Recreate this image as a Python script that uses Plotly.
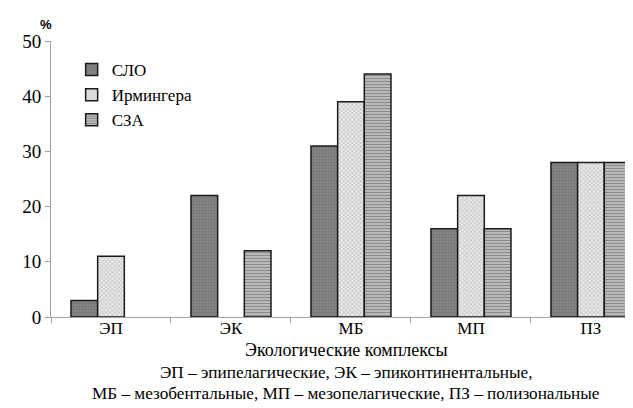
import plotly.graph_objects as go

categories = ["ЭП", "ЭК", "МБ", "МП", "ПЗ"]
slo = [3, 22, 31, 16, 28]
irminger = [11, 0, 39, 22, 28]
sza = [0, 12, 44, 16, 28]
series_names = ["СЛО", "Ирмингера", "СЗА"]
y_ticks = [0, 10, 20, 30, 40, 50]

serif = "Liberation Serif"

fig = go.Figure()
styles = [
    dict(color="#8c8c8c", pattern=dict(shape=".", fgcolor="#5a5a5a", bgcolor="#8c8c8c", size=3, solidity=0.5)),
    dict(color="#e0e0e0", pattern=dict(shape="x", fgcolor="#8a8a8a", bgcolor="#e8e8e8", size=3, solidity=0.35)),
    dict(color="#bdbdbd", pattern=dict(shape="-", fgcolor="#505050", bgcolor="#c8c8c8", size=3, solidity=0.5)),
]
for name, vals, st, g in zip(series_names, [slo, irminger, sza], styles, ["a", "b", "c"]):
    fig.add_trace(go.Bar(
        x=categories, y=[v if v else None for v in vals], name=name, legendgroup=g,
        marker=dict(color=st["color"], pattern=st["pattern"],
                    line=dict(color="#1a1a1a", width=1.5)),
    ))

fig.update_layout(
    width=633, height=408,
    margin=dict(l=43, r=0, t=33, b=99),
    plot_bgcolor="white", paper_bgcolor="white",
    barmode="group", bargap=1/3, bargroupgap=0,
    font=dict(family=serif, size=16, color="black"),
    legend=dict(x=0.035, y=0.96, xanchor="left", yanchor="top",
                font=dict(family=serif, size=17, color="black"), tracegroupgap=17,
                traceorder="normal", bgcolor="rgba(0,0,0,0)", itemwidth=30),
    xaxis=dict(range=[-0.5, 4.417], showline=True, linecolor="#a0a0a0", linewidth=1,
               ticks="outside", tickson="boundaries", ticklen=5, tickcolor="#a0a0a0",
               ticklabelstandoff=-4,
               tickfont=dict(family=serif, size=17, color="black"), showgrid=False),
    yaxis=dict(range=[0, 50], tickvals=y_ticks, showline=True, linecolor="#a0a0a0", linewidth=1,
               ticks="outside", ticklen=5, tickcolor="#a0a0a0", showgrid=False, zeroline=False,
               tickfont=dict(family=serif, size=19, color="black")),
    annotations=[
        dict(text="<b>%</b>", x=-0.0085, y=1.058, xanchor="center", yanchor="middle",
             xref="paper", yref="paper", showarrow=False,
             font=dict(family="Liberation Sans", size=13, color="black")),
        dict(text="Экологические комплексы", x=0.5, xref="paper", yref="paper", y=0,
             yshift=-45, showarrow=False, font=dict(family=serif, size=18, color="black")),
        dict(text="ЭП – эпипелагические, ЭК – эпиконтинентальные,", x=0.5, xref="paper", yref="paper", y=0,
             yshift=-67, showarrow=False, font=dict(family=serif, size=17.2, color="black")),
        dict(text="МБ – мезобентальные, МП – мезопелагические, ПЗ – полизональные", x=0.5, xref="paper", yref="paper", y=0,
             yshift=-88, showarrow=False, font=dict(family=serif, size=17.2, color="black")),
    ],
)
fig.write_html("out.html")
